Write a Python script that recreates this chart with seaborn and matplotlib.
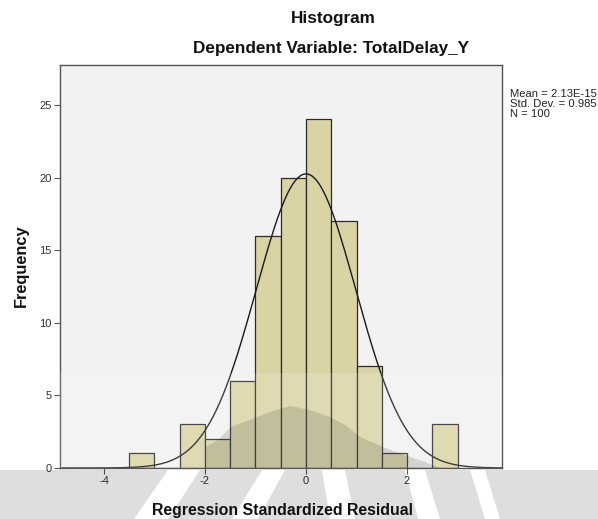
import numpy as np
import pandas as pd
import matplotlib
matplotlib.use("Agg")
import matplotlib.pyplot as plt
from matplotlib.patches import Polygon, Rectangle
import seaborn as sns

# Residual histogram: bin edges (width 0.5) and counts per bin
bin_edges = [-3.5, -3.0, -2.5, -2.0, -1.5, -1.0, -0.5, 0.0, 0.5, 1.0, 1.5, 2.0, 2.5, 3.0]
counts = [1, 0, 3, 2, 6, 16, 20, 24, 17, 7, 1, 0, 3]

mean_val = 2.13e-15
std_dev = 0.985
n_obs = 100

x_ticks = [-4, -2, 0, 2]
y_ticks = [0, 5, 10, 15, 20, 25]

sns.set_style("white")
plt.rcParams["font.family"] = ["Liberation Sans", "DejaVu Sans"]

centers = [(bin_edges[i] + bin_edges[i + 1]) / 2 for i in range(len(counts))]
df = pd.DataFrame({"resid": centers, "count": counts})

W, H = 598, 519
fig = plt.figure(figsize=(W / 100, H / 100), dpi=100)
left, right, top, bottom = 60, 502, 65, 468
ax = fig.add_axes([left / W, 1 - bottom / H, (right - left) / W, (bottom - top) / H])
ax.set_facecolor("#F2F2F2")

sns.histplot(data=df, x="resid", weights="count", bins=bin_edges, stat="count",
             color="#DAD4A4", alpha=1.0, edgecolor="#2b2b2b", linewidth=0.9, ax=ax)

# Normal curve scaled to the histogram
bw = bin_edges[1] - bin_edges[0]
xs = np.linspace(-4.87, 3.88, 400)
ys = n_obs * bw / (std_dev * np.sqrt(2 * np.pi)) * np.exp(-0.5 * ((xs - mean_val) / std_dev) ** 2)
sns.lineplot(x=xs, y=ys, color="#1a1a1a", linewidth=1.0, ax=ax)

ax.set_xlim(-4.87, 3.88)
ax.set_ylim(0, 27.75)
ax.set_xticks(x_ticks)
ax.set_xticklabels([str(t) for t in x_ticks])
ax.set_yticks(y_ticks)
ax.set_yticklabels([str(t) for t in y_ticks])
ax.tick_params(axis="both", direction="out", length=4, width=0.8, color="#555555",
               labelsize=8, labelcolor="#333333", pad=2, bottom=True, left=True)
for sp in ax.spines.values():
    sp.set_color("#555555")
    sp.set_linewidth(1.0)
ax.set_xlabel("")
ax.set_ylabel("")


# Faint page watermark (pixel coordinates, y measured from the top)
def px(points):
    return [(x / W, 1 - y / H) for x, y in points]


fig.add_artist(Rectangle((left / W, 1 - bottom / H), (right - left) / W, (bottom - 373) / H,
                         transform=fig.transFigure, facecolor="white", alpha=0.15,
                         edgecolor="none", zorder=1))
mound = [(206, 468), (206, 447), (218, 440), (231, 427), (250, 420), (270, 412),
         (290, 406), (310, 410), (330, 417), (345, 425), (360, 437), (385, 448),
         (405, 455), (425, 462), (440, 468)]
fig.add_artist(Polygon(px(mound), closed=True, transform=fig.transFigure,
                       facecolor="black", alpha=0.13, edgecolor="none", zorder=1))
gaps = [((168, 200), (134, 168)), ((262, 285), (232, 258)), ((322, 345), (330, 355)),
        ((405, 425), (418, 440)), ((470, 485), (485, 500))]
y0, y1 = 470, 519
prev_top, prev_bot = 0, 0
for (ta, tb), (ba, bb) in gaps + [((W, W), (W, W))]:
    ray = [(prev_top, y0), (ta, y0), (ba, y1), (prev_bot, y1)]
    fig.add_artist(Polygon(px(ray), closed=True, transform=fig.transFigure,
                           facecolor="black", alpha=0.13, edgecolor="none", zorder=1))
    prev_top, prev_bot = tb, bb

fig.text(333 / W, 1 - 19 / H, "Histogram", ha="center", va="center",
         fontsize=12.3, fontweight="bold", color="#111111", zorder=3)
fig.text(331 / W, 1 - 49 / H, "Dependent Variable: TotalDelay_Y", ha="center", va="center",
         fontsize=12.3, fontweight="bold", color="#111111", zorder=3)
fig.text(282 / W, 1 - 510 / H, "Regression Standardized Residual", ha="center", va="center",
         fontsize=11.4, fontweight="bold", color="#111111", zorder=3)
fig.text(21 / W, 1 - 266 / H, "Frequency", ha="center", va="center", rotation=90,
         fontsize=11.8, fontweight="bold", color="#111111", zorder=3)

stats = f"Mean = 2.13E-15\nStd. Dev. = {std_dev}\nN = {n_obs}"
fig.text(510 / W, 1 - 104 / H, stats, ha="left", va="center", fontsize=8.1,
         color="#222222", linespacing=1.0, zorder=3)

fig.savefig("out.png", dpi=100, facecolor="white")
